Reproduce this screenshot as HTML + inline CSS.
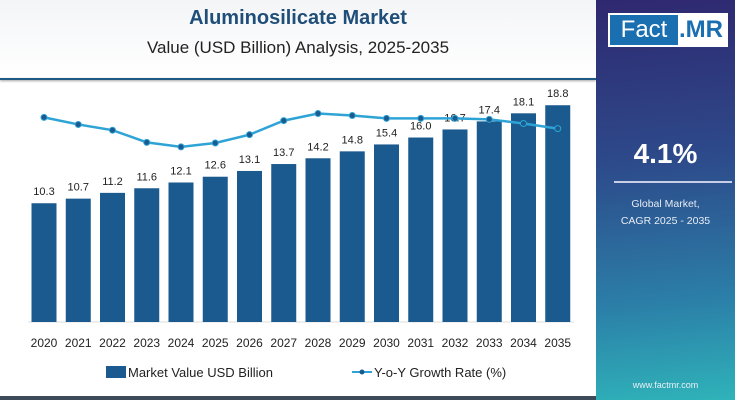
<!DOCTYPE html>
<html><head><meta charset="utf-8"><style>
body{margin:0;width:735px;height:400px;overflow:hidden;background:#fff;font-family:"Liberation Sans",sans-serif;position:relative}
#panel{position:absolute;left:596px;top:0;width:139px;height:400px;background:linear-gradient(175deg,#2f2870 0%,#2d4a8a 40%,#2b7fa8 75%,#2fb3b9 100%)}
</style></head><body>
<div style="position:absolute;left:0;top:0;width:596px;height:78px;background:linear-gradient(#f4f5f7,#fff)"></div>
<div style="position:absolute;left:0;width:596px;top:7px;text-align:center;font-size:20px;font-weight:bold;color:#1f4e79">Aluminosilicate Market</div>
<div style="position:absolute;left:0;width:596px;top:38px;text-align:center;font-size:17px;color:#222">Value (USD Billion) Analysis, 2025-2035</div>
<div style="position:absolute;left:0;top:78px;width:596px;height:2px;background:#1f5a85;box-shadow:0 1px 2px #999"></div>
<div id="panel">
 <div style="position:absolute;left:12px;top:13px;width:120px;height:34px;background:#fff;overflow:hidden">
  <div style="position:absolute;left:2px;top:2px;width:68px;height:30px;background:#1a6fb0;color:#fff;font-size:24px;line-height:30px;text-align:center">Fact</div>
  <div style="position:absolute;left:71px;top:2px;color:#1a6fb0;font-size:24px;line-height:30px;font-weight:bold">.MR</div>
 </div>
 <div style="position:absolute;left:0;width:139px;top:138px;text-align:center;color:#fff;font-size:28px;font-weight:bold">4.1%</div>
 <div style="position:absolute;left:18px;width:118px;top:181px;height:2px;background:#c8cde8"></div>
 <div style="position:absolute;left:0;width:139px;top:196px;text-align:center;color:#e8ecf5;font-size:10.5px;line-height:17px">Global Market,<br>CAGR 2025 - 2035</div>
 <div style="position:absolute;left:0;width:139px;top:380px;text-align:center;color:#e8f0f5;font-size:9px">www.factmr.com</div>
</div>
<div style="position:absolute;left:0;top:396px;width:596px;height:4px;background:#3c4a5a"></div>
<svg id="chart" width="596" height="396" style="position:absolute;left:0;top:0" font-family="Liberation Sans, sans-serif"></svg>
<script>
const years=["2020","2021","2022","2023","2024","2025","2026","2027","2028","2029","2030","2031","2032","2033","2034","2035"];
const marketValues=[10.3,10.7,11.2,11.6,12.1,12.6,13.1,13.7,14.2,14.8,15.4,16.0,16.7,17.4,18.1,18.8];
const growthRates=[4.3,4.08,3.9,3.52,3.38,3.5,3.76,4.2,4.42,4.36,4.27,4.27,4.27,4.24,4.11,3.95];
const svg=document.getElementById('chart');const NS="http://www.w3.org/2000/svg";
function mk(t,a){const e=document.createElementNS(NS,t);for(const k in a)e.setAttribute(k,a[k]);svg.appendChild(e);return e;}
const x0=44,dx=34.25,base=322,ppu=11.53;
const xs=i=>x0+i*dx, yv=v=>base-v*ppu, yg=g=>255-g*32;
const ax=mk('line',{x1:28,x2:574,y1:base,y2:base,stroke:'#ddd'});

years.forEach((y,i)=>{
 const b=mk('rect',{x:xs(i)-12.5,y:yv(marketValues[i]),width:25,height:marketValues[i]*ppu,fill:'#1b5a8e'});
 
 const l=mk('text',{x:xs(i),y:yv(marketValues[i])-8,'text-anchor':'middle','font-size':'11',fill:'#222'});l.textContent=marketValues[i].toFixed(1);
 
 const t=mk('text',{x:xs(i),y:347,'text-anchor':'middle','font-size':'12',fill:'#222'});t.textContent=y;
 
});
const pl=mk('polyline',{points:growthRates.map((g,i)=>xs(i)+','+yg(g)).join(' '),fill:'none',stroke:'#2ea3d6','stroke-width':2.5});

growthRates.forEach((g,i)=>{const c=mk('circle',{cx:xs(i),cy:yg(g),r:3,fill:'#1b5a8e',stroke:'#2ea3d6','stroke-width':1});
 });
const lg1=mk('rect',{x:106,y:366,width:20,height:12,fill:'#1b5a8e'});
const lt1=mk('text',{x:128,y:377,'font-size':'13',fill:'#222'});lt1.textContent='Market Value USD Billion';
const lg2=mk('line',{x1:352,x2:372,y1:372,y2:372,stroke:'#2ea3d6','stroke-width':2});
mk('circle',{cx:362,cy:372,r:2.5,fill:'#1b5a8e'});
const lt2=mk('text',{x:374,y:377,'font-size':'13',fill:'#222'});lt2.textContent='Y-o-Y Growth Rate (%)';
</script>
</body></html>
